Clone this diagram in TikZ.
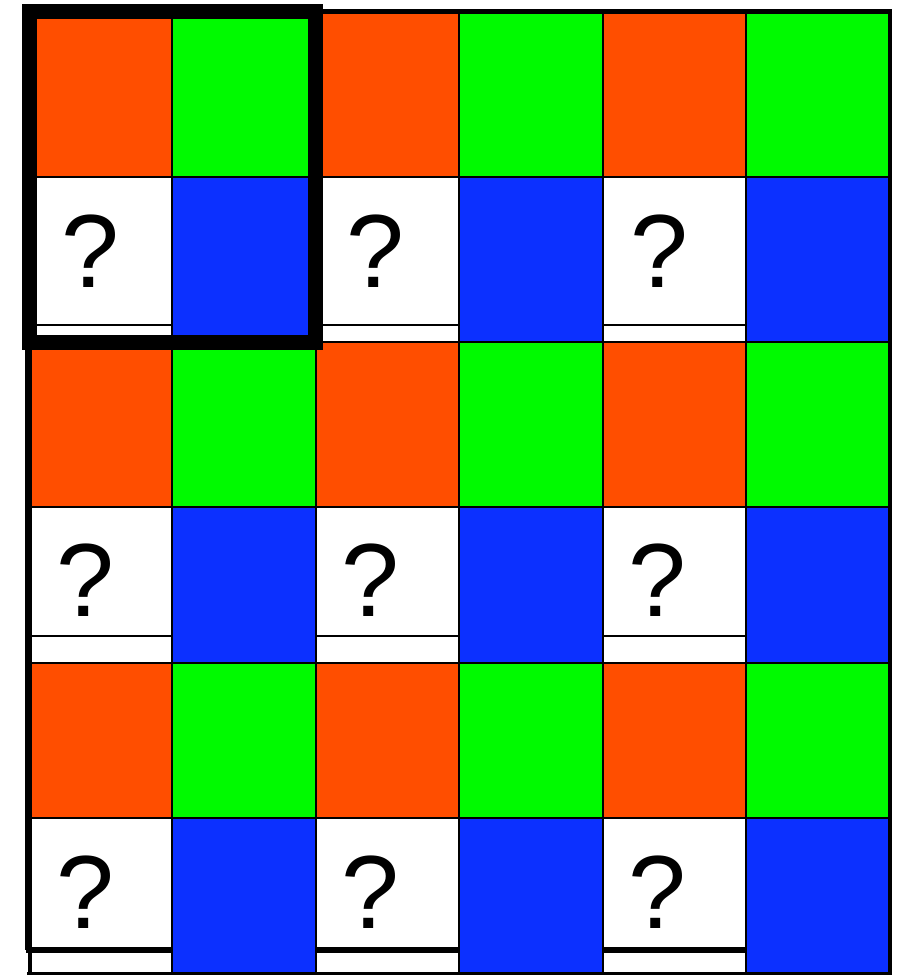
\documentclass[tikz,border=0pt]{standalone}
\usepackage{fontspec}
\setmainfont{Liberation Sans}
\definecolor{bred}{RGB}{255,78,0}
\definecolor{bgreen}{RGB}{0,250,0}
\definecolor{bblue}{RGB}{12,48,255}
\tikzset{
  cellbox/.style={draw=black, line width=2pt},
  redcell/.style={cellbox, fill=bred},
  greencell/.style={cellbox, fill=bgreen},
  bluecell/.style={cellbox, fill=bblue},
  whitecell/.style={draw=black, line width=2pt},
  frameline/.style={draw=black, line width=#1},
  qmark/.style={inner sep=0pt, font=\fontsize{104}{104}\selectfont},
  bigbox/.style={draw=black, line width=15pt}
}
\begin{document}
\begin{tikzpicture}[x=1pt,y=-1pt]
\useasboundingbox (0,0) rectangle (897,976);
\fill[white] (0,0) rectangle (897,976);
% column and row boundaries
\def\cA{31}\def\cB{172}\def\cC{316}\def\cD{459}\def\cE{603}\def\cF{746}\def\cG{889}
% line behind the blue cells
\draw[frameline=6pt] (26,950) -- (892,950);
% rows 1,3,5: red / green
\foreach \ya/\yb in {13/177, 342/507, 663/818}{
  \draw[redcell]   (\cA,\ya) rectangle (\cB,\yb);
  \draw[greencell] (\cB,\ya) rectangle (\cC,\yb);
  \draw[redcell]   (\cC,\ya) rectangle (\cD,\yb);
  \draw[greencell] (\cD,\ya) rectangle (\cE,\yb);
  \draw[redcell]   (\cE,\ya) rectangle (\cF,\yb);
  \draw[greencell] (\cF,\ya) rectangle (\cG,\yb);
}
% rows 2,4,6: white / blue
\foreach \ya/\yb/\yw in {177/342/325, 507/663/636, 818/973/950}{
  \draw[whitecell] (\cA,\ya) rectangle (\cB,\yw);
  \draw[bluecell]  (\cB,\ya) rectangle (\cC,\yb);
  \draw[whitecell] (\cC,\ya) rectangle (\cD,\yw);
  \draw[bluecell]  (\cD,\ya) rectangle (\cE,\yb);
  \draw[whitecell] (\cE,\ya) rectangle (\cF,\yw);
  \draw[bluecell]  (\cF,\ya) rectangle (\cG,\yb);
  \draw[line width=2pt] (\cA,\yw) -- (\cA,\yb) (\cC,\yw) -- (\cC,\yb) (\cD,\yw) -- (\cD,\yb) (\cE,\yw) -- (\cE,\yb) (\cF,\yw) -- (\cF,\yb);
}
% outer frame lines
\draw[frameline=5pt] (26,12) -- (892,12);
\draw[frameline=4pt] (890,10) -- (890,975);
\draw[frameline=7pt] (28.5,12) -- (28.5,950);
\draw[frameline=3pt] (29,950) -- (29,975);
\draw[frameline=2.5pt] (27,973.5) -- (892,973.5);
% question marks
\node[qmark] (q11) at (90,251) {?};
\node[qmark] (q12) at (375,251) {?};
\node[qmark] (q13) at (659,251) {?};
\node[qmark] (q21) at (85,580) {?};
\node[qmark] (q22) at (370,580) {?};
\node[qmark] (q23) at (657,580) {?};
\node[qmark] (q31) at (85,892) {?};
\node[qmark] (q32) at (370,892) {?};
\node[qmark] (q33) at (657,892) {?};
% highlighted 2x2 block
\draw[bigbox] (29.5,12) rectangle (315.5,342);
\end{tikzpicture}
\end{document}
